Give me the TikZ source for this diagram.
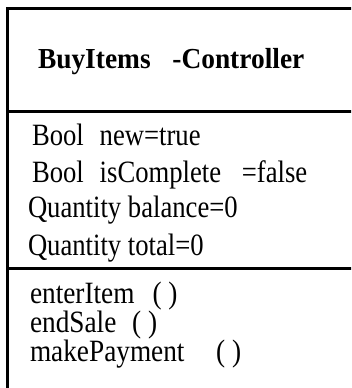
\documentclass[tikz,border=0pt]{standalone}
\usepackage{fontspec}
\setmainfont{Liberation Serif}
\newcommand{\attrtext}[1]{\fontsize{31}{31}\selectfont\scalebox{0.86}[1]{#1}}
\newcommand{\methtext}[1]{\fontsize{31}{31}\selectfont\scalebox{0.88}[1]{#1}}
\newcommand{\titletext}[1]{\fontsize{29}{29}\selectfont\bfseries\scalebox{0.945}[1]{#1}}
\begin{document}
\begin{tikzpicture}[x=1pt,y=-1pt,
  txt/.style={anchor=base west, inner sep=0pt, outer sep=0pt},
  frame/.style={line width=3pt, black}]
\useasboundingbox (0,0) rectangle (351,388);
\clip (0,0) rectangle (351,388);
% frame
\coordinate (tl) at (7.5,8.5);
\coordinate (tr) at (360,8.5);
\coordinate (bl) at (7.5,400);
\coordinate (d1l) at (7.5,111.5);
\coordinate (d1r) at (360,111.5);
\coordinate (d2l) at (7.5,268.5);
\coordinate (d2r) at (360,268.5);
\draw[frame] (tr) -- (tl) -- (bl);
\draw[frame] (d1l) -- (d1r);
\draw[frame] (d2l) -- (d2r);
% title
\node[txt] (title) at (38,68) {\titletext{BuyItems\hspace{23pt}-Controller}};
% attributes
\node[txt] (a1) at (32,145.7) {\attrtext{Bool\hspace{18.5pt}new=true}};
\node[txt] (a2) at (32,182) {\attrtext{Bool\hspace{18.5pt}isComplete\hspace{24pt}=false}};
\node[txt] (a3) at (28,217.5) {\attrtext{Quantity balance=0}};
\node[txt] (a4) at (28,255) {\attrtext{Quantity total=0}};
% methods
\node[txt] (m1) at (30,303) {\methtext{enterItem\hspace{20.5pt}( )}};
\node[txt] (m2) at (30,332) {\methtext{endSale\hspace{18pt}( )}};
\node[txt] (m3) at (30,361) {\methtext{makePayment\hspace{36pt}( )}};
\end{tikzpicture}
\end{document}
